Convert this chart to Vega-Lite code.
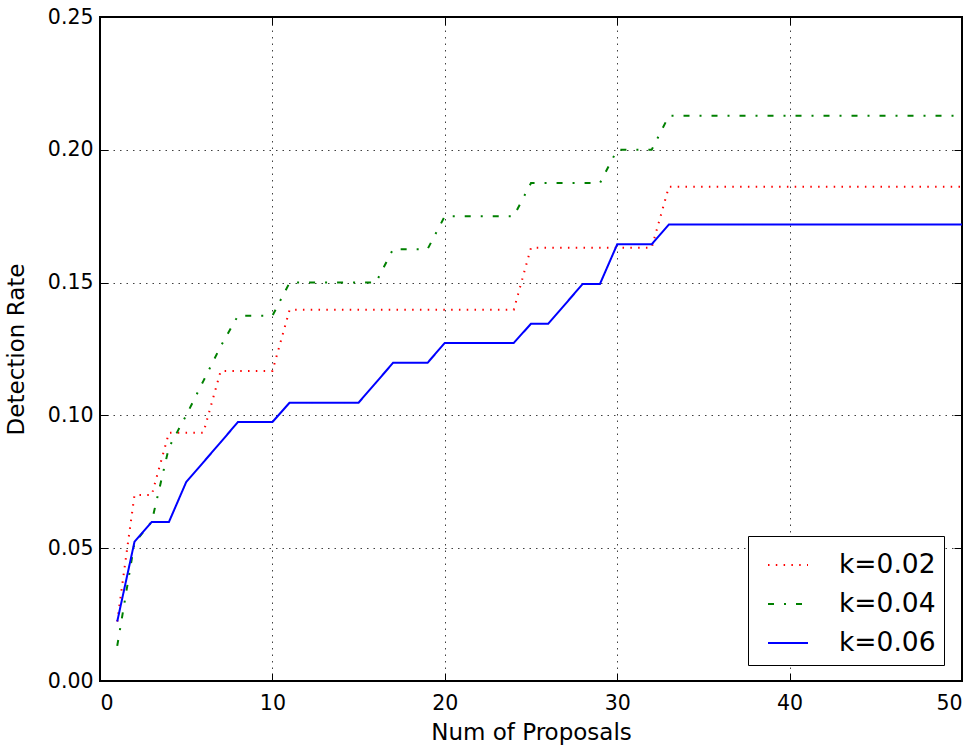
{
  "$schema": "https://vega.github.io/schema/vega-lite/v6.json",
  "autosize": {"type": "none"},
  "padding": {"left": 100, "top": 17, "right": 17, "bottom": 73},
  "width": 862,
  "height": 664,
  "background": "white",
  "data": {"values": [
    {"series": "k=0.02", "n": 1, "rate": 0.0224}, {"series": "k=0.02", "n": 2, "rate": 0.0700}, {"series": "k=0.02", "n": 3, "rate": 0.0700},
    {"series": "k=0.02", "n": 4, "rate": 0.0935}, {"series": "k=0.02", "n": 5, "rate": 0.0935}, {"series": "k=0.02", "n": 6, "rate": 0.0935},
    {"series": "k=0.02", "n": 7, "rate": 0.1167}, {"series": "k=0.02", "n": 8, "rate": 0.1167}, {"series": "k=0.02", "n": 9, "rate": 0.1167},
    {"series": "k=0.02", "n": 10, "rate": 0.1167}, {"series": "k=0.02", "n": 11, "rate": 0.1398}, {"series": "k=0.02", "n": 12, "rate": 0.1398},
    {"series": "k=0.02", "n": 13, "rate": 0.1398}, {"series": "k=0.02", "n": 14, "rate": 0.1398}, {"series": "k=0.02", "n": 15, "rate": 0.1398},
    {"series": "k=0.02", "n": 16, "rate": 0.1398}, {"series": "k=0.02", "n": 17, "rate": 0.1398}, {"series": "k=0.02", "n": 18, "rate": 0.1398},
    {"series": "k=0.02", "n": 19, "rate": 0.1398}, {"series": "k=0.02", "n": 20, "rate": 0.1398}, {"series": "k=0.02", "n": 21, "rate": 0.1398},
    {"series": "k=0.02", "n": 22, "rate": 0.1398}, {"series": "k=0.02", "n": 23, "rate": 0.1398}, {"series": "k=0.02", "n": 24, "rate": 0.1398},
    {"series": "k=0.02", "n": 25, "rate": 0.1631}, {"series": "k=0.02", "n": 26, "rate": 0.1631}, {"series": "k=0.02", "n": 27, "rate": 0.1631},
    {"series": "k=0.02", "n": 28, "rate": 0.1631}, {"series": "k=0.02", "n": 29, "rate": 0.1631}, {"series": "k=0.02", "n": 30, "rate": 0.1631},
    {"series": "k=0.02", "n": 31, "rate": 0.1631}, {"series": "k=0.02", "n": 32, "rate": 0.1631}, {"series": "k=0.02", "n": 33, "rate": 0.1861},
    {"series": "k=0.02", "n": 34, "rate": 0.1861}, {"series": "k=0.02", "n": 35, "rate": 0.1861}, {"series": "k=0.02", "n": 36, "rate": 0.1861},
    {"series": "k=0.02", "n": 37, "rate": 0.1861}, {"series": "k=0.02", "n": 38, "rate": 0.1861}, {"series": "k=0.02", "n": 39, "rate": 0.1861},
    {"series": "k=0.02", "n": 40, "rate": 0.1861}, {"series": "k=0.02", "n": 41, "rate": 0.1861}, {"series": "k=0.02", "n": 42, "rate": 0.1861},
    {"series": "k=0.02", "n": 43, "rate": 0.1861}, {"series": "k=0.02", "n": 44, "rate": 0.1861}, {"series": "k=0.02", "n": 45, "rate": 0.1861},
    {"series": "k=0.02", "n": 46, "rate": 0.1861}, {"series": "k=0.02", "n": 47, "rate": 0.1861}, {"series": "k=0.02", "n": 48, "rate": 0.1861},
    {"series": "k=0.02", "n": 49, "rate": 0.1861}, {"series": "k=0.02", "n": 50, "rate": 0.1861},

    {"series": "k=0.04", "n": 1, "rate": 0.0132}, {"series": "k=0.04", "n": 2, "rate": 0.0520}, {"series": "k=0.04", "n": 3, "rate": 0.0600},
    {"series": "k=0.04", "n": 4, "rate": 0.0880}, {"series": "k=0.04", "n": 5, "rate": 0.1000}, {"series": "k=0.04", "n": 6, "rate": 0.1130},
    {"series": "k=0.04", "n": 7, "rate": 0.1260}, {"series": "k=0.04", "n": 8, "rate": 0.1375}, {"series": "k=0.04", "n": 9, "rate": 0.1375},
    {"series": "k=0.04", "n": 10, "rate": 0.1375}, {"series": "k=0.04", "n": 11, "rate": 0.1500}, {"series": "k=0.04", "n": 12, "rate": 0.1500},
    {"series": "k=0.04", "n": 13, "rate": 0.1500}, {"series": "k=0.04", "n": 14, "rate": 0.1500}, {"series": "k=0.04", "n": 15, "rate": 0.1500},
    {"series": "k=0.04", "n": 16, "rate": 0.1500}, {"series": "k=0.04", "n": 17, "rate": 0.1626}, {"series": "k=0.04", "n": 18, "rate": 0.1626},
    {"series": "k=0.04", "n": 19, "rate": 0.1626}, {"series": "k=0.04", "n": 20, "rate": 0.1750}, {"series": "k=0.04", "n": 21, "rate": 0.1750},
    {"series": "k=0.04", "n": 22, "rate": 0.1750}, {"series": "k=0.04", "n": 23, "rate": 0.1750}, {"series": "k=0.04", "n": 24, "rate": 0.1750},
    {"series": "k=0.04", "n": 25, "rate": 0.1875}, {"series": "k=0.04", "n": 26, "rate": 0.1875}, {"series": "k=0.04", "n": 27, "rate": 0.1875},
    {"series": "k=0.04", "n": 28, "rate": 0.1875}, {"series": "k=0.04", "n": 29, "rate": 0.1875}, {"series": "k=0.04", "n": 30, "rate": 0.2000},
    {"series": "k=0.04", "n": 31, "rate": 0.2000}, {"series": "k=0.04", "n": 32, "rate": 0.2000}, {"series": "k=0.04", "n": 33, "rate": 0.2128},
    {"series": "k=0.04", "n": 34, "rate": 0.2128}, {"series": "k=0.04", "n": 35, "rate": 0.2128}, {"series": "k=0.04", "n": 36, "rate": 0.2128},
    {"series": "k=0.04", "n": 37, "rate": 0.2128}, {"series": "k=0.04", "n": 38, "rate": 0.2128}, {"series": "k=0.04", "n": 39, "rate": 0.2128},
    {"series": "k=0.04", "n": 40, "rate": 0.2128}, {"series": "k=0.04", "n": 41, "rate": 0.2128}, {"series": "k=0.04", "n": 42, "rate": 0.2128},
    {"series": "k=0.04", "n": 43, "rate": 0.2128}, {"series": "k=0.04", "n": 44, "rate": 0.2128}, {"series": "k=0.04", "n": 45, "rate": 0.2128},
    {"series": "k=0.04", "n": 46, "rate": 0.2128}, {"series": "k=0.04", "n": 47, "rate": 0.2128}, {"series": "k=0.04", "n": 48, "rate": 0.2128},
    {"series": "k=0.04", "n": 49, "rate": 0.2128}, {"series": "k=0.04", "n": 50, "rate": 0.2128},

    {"series": "k=0.06", "n": 1, "rate": 0.0224}, {"series": "k=0.06", "n": 2, "rate": 0.0524}, {"series": "k=0.06", "n": 3, "rate": 0.0599},
    {"series": "k=0.06", "n": 4, "rate": 0.0599}, {"series": "k=0.06", "n": 5, "rate": 0.0749}, {"series": "k=0.06", "n": 6, "rate": 0.0824},
    {"series": "k=0.06", "n": 7, "rate": 0.0899}, {"series": "k=0.06", "n": 8, "rate": 0.0975}, {"series": "k=0.06", "n": 9, "rate": 0.0975},
    {"series": "k=0.06", "n": 10, "rate": 0.0975}, {"series": "k=0.06", "n": 11, "rate": 0.1048}, {"series": "k=0.06", "n": 12, "rate": 0.1048},
    {"series": "k=0.06", "n": 13, "rate": 0.1048}, {"series": "k=0.06", "n": 14, "rate": 0.1048}, {"series": "k=0.06", "n": 15, "rate": 0.1048},
    {"series": "k=0.06", "n": 16, "rate": 0.1123}, {"series": "k=0.06", "n": 17, "rate": 0.1198}, {"series": "k=0.06", "n": 18, "rate": 0.1198},
    {"series": "k=0.06", "n": 19, "rate": 0.1198}, {"series": "k=0.06", "n": 20, "rate": 0.1273}, {"series": "k=0.06", "n": 21, "rate": 0.1273},
    {"series": "k=0.06", "n": 22, "rate": 0.1273}, {"series": "k=0.06", "n": 23, "rate": 0.1273}, {"series": "k=0.06", "n": 24, "rate": 0.1273},
    {"series": "k=0.06", "n": 25, "rate": 0.1345}, {"series": "k=0.06", "n": 26, "rate": 0.1345}, {"series": "k=0.06", "n": 27, "rate": 0.1420},
    {"series": "k=0.06", "n": 28, "rate": 0.1495}, {"series": "k=0.06", "n": 29, "rate": 0.1495}, {"series": "k=0.06", "n": 30, "rate": 0.1644},
    {"series": "k=0.06", "n": 31, "rate": 0.1644}, {"series": "k=0.06", "n": 32, "rate": 0.1644}, {"series": "k=0.06", "n": 33, "rate": 0.1719},
    {"series": "k=0.06", "n": 34, "rate": 0.1719}, {"series": "k=0.06", "n": 35, "rate": 0.1719}, {"series": "k=0.06", "n": 36, "rate": 0.1719},
    {"series": "k=0.06", "n": 37, "rate": 0.1719}, {"series": "k=0.06", "n": 38, "rate": 0.1719}, {"series": "k=0.06", "n": 39, "rate": 0.1719},
    {"series": "k=0.06", "n": 40, "rate": 0.1719}, {"series": "k=0.06", "n": 41, "rate": 0.1719}, {"series": "k=0.06", "n": 42, "rate": 0.1719},
    {"series": "k=0.06", "n": 43, "rate": 0.1719}, {"series": "k=0.06", "n": 44, "rate": 0.1719}, {"series": "k=0.06", "n": 45, "rate": 0.1719},
    {"series": "k=0.06", "n": 46, "rate": 0.1719}, {"series": "k=0.06", "n": 47, "rate": 0.1719}, {"series": "k=0.06", "n": 48, "rate": 0.1719},
    {"series": "k=0.06", "n": 49, "rate": 0.1719}, {"series": "k=0.06", "n": 50, "rate": 0.1719}
  ]},
  "layer": [
    {
      "mark": {"type": "line", "strokeWidth": 2, "clip": true},
      "encoding": {
        "x": {"field": "n", "type": "quantitative", "scale": {"domain": [0, 50], "nice": false, "zero": false},
              "axis": {"orient": "bottom", "title": "Num of Proposals", "values": [0, 10, 20, 30, 40, 50], "grid": true}},
        "y": {"field": "rate", "type": "quantitative", "scale": {"domain": [0, 0.25], "nice": false},
              "axis": {"orient": "left", "title": "Detection Rate", "values": [0, 0.05, 0.1, 0.15, 0.2, 0.25], "format": ".2f", "grid": true}},
        "color": {"field": "series", "type": "nominal",
                  "scale": {"domain": ["k=0.02", "k=0.04", "k=0.06"], "range": ["#ff0000", "#008000", "#0000ff"]},
                  "legend": {"title": null}},
        "strokeDash": {"field": "series", "type": "nominal",
                  "scale": {"domain": ["k=0.02", "k=0.04", "k=0.06"], "range": [[1.5, 6.3], [6, 10, 2, 10], [1, 0]]},
                  "legend": {"title": null}}
      }
    },
    {
      "mark": {"type": "point", "opacity": 0},
      "encoding": {
        "x": {"field": "n", "type": "quantitative",
              "axis": {"orient": "top", "title": null, "labels": false, "grid": false, "values": [0, 10, 20, 30, 40, 50]}},
        "y": {"field": "rate", "type": "quantitative",
              "axis": {"orient": "right", "title": null, "labels": false, "grid": false, "values": [0, 0.05, 0.1, 0.15, 0.2, 0.25]}}
      }
    }
  ],
  "resolve": {"axis": {"x": "independent", "y": "independent"}},
  "config": {
    "font": "DejaVu Sans",
    "view": {"stroke": "#000000", "strokeWidth": 2},
    "axis": {
      "domain": false,
      "tickSize": -8,
      "tickColor": "#000000",
      "tickWidth": 1,
      "labelFont": "DejaVu Sans",
      "labelFontSize": 20.5,
      "labelColor": "#000000",
      "titleFont": "DejaVu Sans",
      "titleFontSize": 23,
      "titleFontWeight": "normal",
      "titleColor": "#000000",
      "gridColor": "#000000",
      "gridOpacity": 0.75,
      "gridDash": [1.5, 5],
      "gridWidth": 1
    },
    "axisBottom": {"labelPadding": 20, "titlePadding": 8},
    "axisLeft": {"labelPadding": 15, "titlePadding": 19},
    "legend": {
      "orient": "none",
      "legendX": 648,
      "legendY": 519,
      "symbolType": "stroke",
      "symbolSize": 1600,
      "symbolStrokeWidth": 2,
      "symbolOffset": 11,
      "labelFont": "DejaVu Sans",
      "labelFontSize": 26.5,
      "labelColor": "#000000",
      "labelOffset": 30,
      "padding": 8,
      "rowPadding": 4,
      "strokeColor": "#000000",
      "fillColor": "#ffffff",
      "cornerRadius": 0
    }
  }
}
